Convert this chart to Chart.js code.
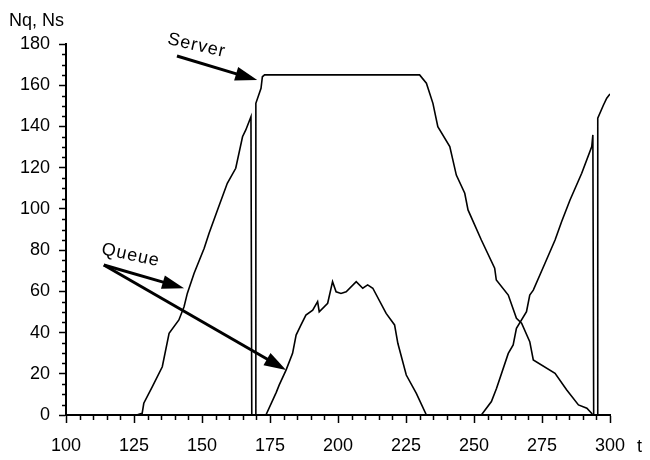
<!DOCTYPE html>
<html>
<head>
<meta charset="utf-8">
<script src="https://cdn.jsdelivr.net/npm/chart.js@4.4.1/dist/chart.umd.min.js"></script>
<style>
  html, body { margin: 0; padding: 0; background: #fff; }
</style>
</head>
<body>
<canvas id="queueChart" width="650" height="460"></canvas>
<script>
// queue length Nq over time t
const queueT = [100, 126, 128, 128.6, 131.7, 135.4, 137.9, 141.5, 143.4, 144.6, 147.1, 150.8, 152.6, 155.7, 159.3,
  162.4, 164.9, 166.1, 168, 168.3, 173.5, 177.3, 178.4, 180.9, 183.3, 184.6, 186.4, 188.2, 190.7, 192.5,
  193.1, 196.2, 198, 199.3, 201.1, 203, 206.7, 209.1, 210.9, 212.8, 217.7, 220.8, 222, 225.1, 228.8,
  232.5, 252.7, 256.4, 258.3, 262.6, 264.4, 265.6, 269.3, 270.5, 271.8, 276.1, 279.8, 282.2, 285.3, 289.6,
  293.3, 293.7, 294, 300];
const queueN = [0, 0, 0.8, 5.7, 13.7, 23.4, 39.6, 46.1, 52.5, 59, 68.8, 80.9, 88.2, 99.5, 112.4,
  119.7, 135, 138.3, 144.7, 0, 0, 11, 14.6, 21.8, 29.9, 38.8, 43.7, 48.5, 50.9, 55,
  50.1, 54.2, 64.7, 59.8, 59, 59.8, 64.7, 61.5, 63.1, 61.5, 49.3, 43.7, 34.8, 19.4, 10.5,
  0, 0, 6.5, 13, 29.9, 34, 42.1, 50.1, 58.2, 60.6, 73.6, 84.9, 93.8, 104.3, 117.3,
  130.2, 135.9, 0, 0];

// server occupancy Ns over time t
const serverT = [100, 169.7, 169.8, 171.7, 172.2, 173, 230, 232.5, 234.9, 236.7, 241.1, 243.5, 246.6, 247.8, 252.7,
  257.6, 258.2, 262.6, 265.6, 267.5, 270.5, 271.8, 279.8, 284.1, 288.4, 291.5, 293.3, 293.6, 295.3, 295.5,
  297.6, 298.8, 300];
const serverN = [0, 0, 151.2, 158.5, 164.1, 165, 165, 161, 151.2, 139.9, 130.2, 116.4, 107.6, 99.5, 84.9,
  71.2, 65.5, 58.2, 46.9, 44.5, 35.6, 26.7, 20.2, 12.1, 4.9, 3.3, 0.8, 0, 0, 144,
  150.4, 153.7, 155.7];

const xTicks = [100, 125, 150, 175, 200, 225, 250, 275, 300];
const yTicks = [0, 20, 40, 60, 80, 100, 120, 140, 160, 180];

const FONT = '"Liberation Sans", Arial, Helvetica, sans-serif';
Chart.defaults.font.family = FONT;
Chart.defaults.font.size = 18;
Chart.defaults.color = '#000';

function pts(ts, ns) {
  return ts.map((t, i) => ({ x: t, y: ns[i] }));
}

function arrow(ctx, x0, y0, x1, y1) {
  const a = Math.atan2(y1 - y0, x1 - x0);
  const len = 22, half = 7;
  const bx = x1 - len * Math.cos(a), by = y1 - len * Math.sin(a);
  ctx.beginPath();
  ctx.moveTo(x0, y0);
  ctx.lineTo(bx + 2 * Math.cos(a), by + 2 * Math.sin(a));
  ctx.stroke();
  ctx.beginPath();
  ctx.moveTo(x1, y1);
  ctx.lineTo(bx + half * Math.sin(a), by - half * Math.cos(a));
  ctx.lineTo(bx - half * Math.sin(a), by + half * Math.cos(a));
  ctx.closePath();
  ctx.fill();
}

function label(ctx, text, x, y, deg) {
  ctx.save();
  ctx.translate(x, y);
  ctx.rotate(deg * Math.PI / 180);
  ctx.textAlign = 'center';
  ctx.textBaseline = 'middle';
  ctx.letterSpacing = '1px';
  ctx.fillText(text, 0, 0);
  ctx.restore();
}

// minor ticks, axis names and the Server / Queue arrows
const extras = {
  id: 'extras',
  afterDraw(chart) {
    const { ctx, chartArea: area, scales: { x, y } } = chart;
    ctx.save();
    ctx.strokeStyle = '#000';
    ctx.fillStyle = '#000';
    ctx.lineWidth = 1.5;
    ctx.beginPath();
    for (let v = 100; v <= 300; v += 5) {
      if (v % 25 === 0) continue;
      const px = Math.round(x.getPixelForValue(v)) + 0.5;
      ctx.moveTo(px, area.bottom);
      ctx.lineTo(px, area.bottom + 5);
    }
    for (let v = 0; v <= 180; v += 5) {
      if (v % 20 === 0) continue;
      const py = Math.round(y.getPixelForValue(v)) + 0.5;
      ctx.moveTo(area.left, py);
      ctx.lineTo(area.left - 4, py);
    }
    ctx.stroke();

    ctx.font = '18px ' + FONT;
    ctx.textAlign = 'left';
    ctx.textBaseline = 'alphabetic';
    ctx.fillText('Nq, Ns', 9, 26);
    ctx.fillText('t', 637, 452);

    ctx.lineWidth = 3;
    arrow(ctx, x.getPixelForValue(140.8), y.getPixelForValue(174.2),
      x.getPixelForValue(170.3), y.getPixelForValue(162.5));
    arrow(ctx, x.getPixelForValue(113.9), y.getPixelForValue(72.8),
      x.getPixelForValue(143.4), y.getPixelForValue(61.5));
    arrow(ctx, x.getPixelForValue(113.9), y.getPixelForValue(72.8),
      x.getPixelForValue(180.9), y.getPixelForValue(21.8));

    label(ctx, 'Server', x.getPixelForValue(148), y.getPixelForValue(179.2), 13);
    label(ctx, 'Queue', x.getPixelForValue(123.8), y.getPixelForValue(77.5), 12);
    ctx.restore();
  }
};

const config = {
  type: 'line',
  data: {
    datasets: [
      {
        label: 'Queue',
        data: pts(queueT, queueN),
        borderColor: '#000',
        borderWidth: 1.6,
        pointRadius: 0,
        tension: 0
      },
      {
        label: 'Server',
        data: pts(serverT, serverN),
        borderColor: '#000',
        borderWidth: 1.6,
        pointRadius: 0,
        tension: 0
      }
    ]
  },
  options: {
    responsive: false,
    animation: false,
    layout: { padding: { top: 44, right: 40, bottom: 0, left: 0 } },
    plugins: {
      legend: { display: false },
      tooltip: { enabled: false }
    },
    scales: {
      x: {
        type: 'linear',
        min: 100,
        max: 300,
        afterBuildTicks: s => { s.ticks = xTicks.map(v => ({ value: v })); },
        afterFit: s => { s.height = 45; },
        ticks: { padding: 12, maxRotation: 0, autoSkip: false },
        grid: { drawOnChartArea: false, tickLength: 8, tickColor: '#000', tickWidth: 1.5 },
        border: { display: true, color: '#000', width: 2 }
      },
      y: {
        min: 0,
        max: 180,
        afterBuildTicks: s => { s.ticks = yTicks.map(v => ({ value: v })); },
        afterFit: s => { s.width = 66; },
        ticks: { padding: 9, autoSkip: false },
        grid: { drawOnChartArea: false, tickLength: 7, tickColor: '#000', tickWidth: 1.5 },
        border: { display: true, color: '#000', width: 2 }
      }
    }
  },
  plugins: [extras]
};

new Chart(document.getElementById('queueChart'), config);
</script>
</body>
</html>
